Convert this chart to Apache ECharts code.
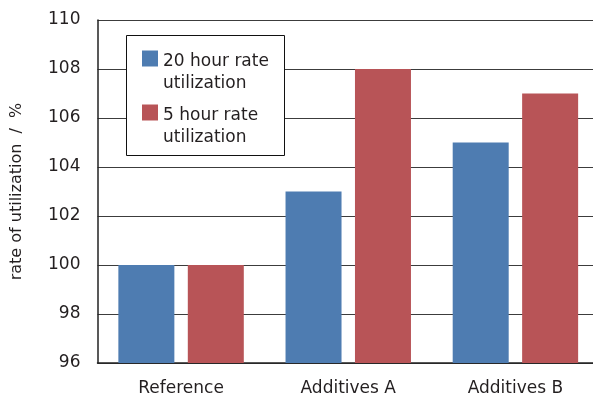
<!DOCTYPE html>
<html>
<head>
<meta charset="utf-8">
<script src="https://cdn.jsdelivr.net/npm/echarts@6/dist/echarts.min.js"></script>
<style>
  html, body { margin: 0; padding: 0; background: #fff; }
  #chart { width: 593px; height: 397px; }
</style>
</head>
<body>
<div id="chart"></div>
<script>
// Categories and the two utilization series (percent)
const categories = ['Reference', 'Additives A', 'Additives B'];
const rate20h = [100, 103, 105];
const rate5h = [100, 108, 107];
const seriesNames = ['20 hour rate\nutilization', '5 hour rate\nutilization'];

const FONT = '"DejaVu Sans", "Liberation Sans", Arial, sans-serif';
const TEXT = '#231f20';

const chart = echarts.init(document.getElementById('chart'), null, { renderer: 'canvas' });

chart.setOption({
  animation: false,
  textStyle: { fontFamily: FONT },
  grid: {
    left: 97.5, top: 20, right: -6, bottom: 34,
    containLabel: false, outerBoundsMode: 'none'
  },
  xAxis: {
    type: 'category',
    data: categories,
    axisLine: { show: true, lineStyle: { color: '#222', width: 1.5 } },
    axisTick: { show: false },
    axisLabel: { color: TEXT, fontSize: 17, margin: 17, fontFamily: FONT }
  },
  yAxis: {
    type: 'value',
    min: 96, max: 110, interval: 2,
    name: 'rate of utilization  /  %',
    nameLocation: 'middle',
    nameRotate: 90,
    nameGap: 73,
    nameTextStyle: { color: TEXT, fontSize: 16, fontFamily: FONT },
    axisLine: { show: true, lineStyle: { color: '#222', width: 1.5 } },
    axisTick: { show: false },
    axisLabel: { color: TEXT, fontSize: 17, margin: 17, fontFamily: FONT },
    splitLine: { show: true, lineStyle: { color: '#3c3c3c', width: 1.2 } }
  },
  graphic: [{
    type: 'rect',
    z: 3,
    shape: { x: 126.5, y: 35.5, width: 158, height: 120 },
    style: { fill: '#fff', stroke: '#111', lineWidth: 1 }
  }],
  legend: {
    orient: 'vertical',
    left: 142, top: 28,
    z: 5,
    itemWidth: 16, itemHeight: 16,
    itemGap: -10,
    padding: 0,
    icon: 'rect',
    data: seriesNames,
    // a taller blank first line keeps the first text line level with the swatch
    formatter: name => '{s| }\n' + name.split('\n').map(l => '{t|' + l + '}').join('\n'),
    textStyle: {
      color: TEXT, fontSize: 17, fontFamily: FONT,
      rich: {
        s: { lineHeight: 28, fontSize: 17, fontFamily: FONT },
        t: { lineHeight: 22, fontSize: 17, fontFamily: FONT, color: TEXT }
      }
    }
  },
  series: [
    {
      name: seriesNames[0], type: 'bar', data: rate20h,
      barWidth: 56, barGap: '24%',
      itemStyle: { color: '#4e7cb1' }
    },
    {
      name: seriesNames[1], type: 'bar', data: rate5h,
      barWidth: 56,
      itemStyle: { color: '#b85457' }
    }
  ]
});
</script>
</body>
</html>
